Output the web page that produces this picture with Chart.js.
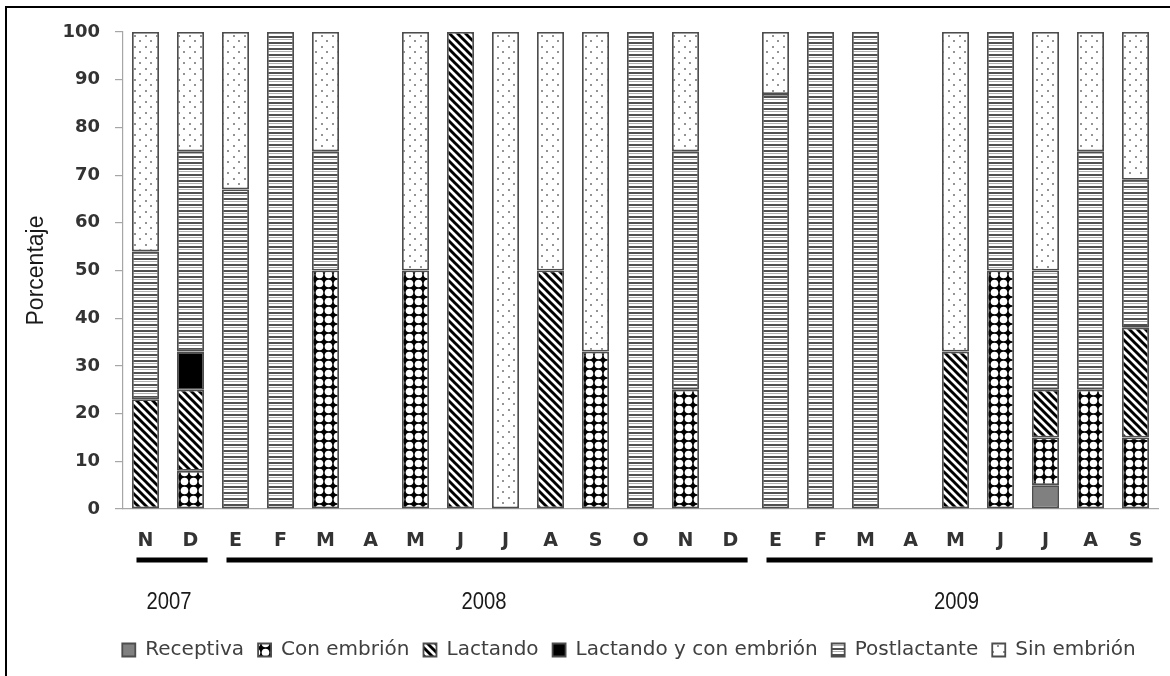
<!DOCTYPE html>
<html>
<head>
<meta charset="utf-8">
<script src="https://cdn.jsdelivr.net/npm/chart.js@4.4.1/dist/chart.umd.min.js"></script>
<style>
  body { margin: 0; background: #fff; }
  #wrap { position: relative; width: 1170px; height: 676px; overflow: hidden; background: #fff; }
  #frame {
    position: absolute; left: 5px; top: 6px; width: 1200px; height: 700px;
    border-left: 2px solid #000; border-top: 2px solid #000; pointer-events: none;
  }
</style>
</head>
<body>
<div id="wrap">
  <canvas id="chart" width="1170" height="676"></canvas>
  <div id="frame"></div>
</div>
<script>
const _ = null;

// Months (N 2007 .. S 2009)
const months = ['N', 'D', 'E', 'F', 'M', 'A', 'M', 'J', 'J', 'A', 'S', 'O', 'N', 'D',
                'E', 'F', 'M', 'A', 'M', 'J', 'J', 'A', 'S'];

// Percentages per reproductive state, stacked bottom -> top
const receptiva    = [_, _, _, _, _, _, _, _, _, _, _, _, _, _, _, _, _, _, _, _, 5, _, _];
const conEmbrion   = [_, 8, _, _, 50, _, 50, _, _, _, 33, _, 25, _, _, _, _, _, _, 50, 10, 25, 15];
const lactando     = [23, 17, _, _, _, _, _, 100, _, 50, _, _, _, _, _, _, _, _, 33, _, 10, _, 23];
const lactandoEmb  = [_, 8, _, _, _, _, _, _, _, _, _, _, _, _, _, _, _, _, _, _, _, _, _];
const postlactante = [31, 42, 67, 100, 25, _, _, _, _, _, _, 100, 50, _, 87, 100, 100, _, _, 50, 25, 50, 31];
const sinEmbrion   = [46, 25, 33, _, 25, _, 50, _, 100, 50, 67, _, 25, _, 13, _, _, _, 67, _, 50, 25, 31];

// Year groups under the month axis (first / last month index)
const years     = ['2007', '2008', '2009'];
const yearFirst = [0, 2, 14];
const yearLast  = [1, 13, 22];

const canvas = document.getElementById('chart');
const mainCtx = canvas.getContext('2d');

function tile(w, h, draw) {
    const c = document.createElement('canvas');
    c.width = w;
    c.height = h;
    draw(c.getContext('2d'));
    return mainCtx.createPattern(c, 'repeat');
}

const patConEmbrion = tile(9, 9, g => {
    g.fillStyle = '#000';
    g.fillRect(0, 0, 9, 9);
    g.fillStyle = '#fff';
    g.beginPath();
    g.arc(4.5, 4.5, 3.8, 0, Math.PI * 2);
    g.fill();
});

const patLactando = tile(8, 8, g => {
    g.fillStyle = '#fff';
    g.fillRect(0, 0, 8, 8);
    g.strokeStyle = '#000';
    g.lineWidth = 2.9;
    g.beginPath();
    g.moveTo(-2, -2); g.lineTo(10, 10);
    g.moveTo(-2, 6);  g.lineTo(2, 10);
    g.moveTo(6, -2);  g.lineTo(10, 2);
    g.stroke();
});

const patPost = tile(6, 6, g => {
    g.fillStyle = '#fff';
    g.fillRect(0, 0, 6, 6);
    g.fillStyle = '#505050';
    g.fillRect(0, 0, 6, 2);
    g.fillStyle = '#b0b0b0';
    g.fillRect(0, 3, 6, 1);
});

const patSin = tile(11, 11, g => {
    g.fillStyle = '#fff';
    g.fillRect(0, 0, 11, 11);
    g.fillStyle = '#949494';
    g.fillRect(2, 2, 2, 2);
    g.fillRect(7, 7, 2, 2);
});

function series(label, data, fill) {
    return {
        label: label,
        data: data,
        backgroundColor: fill,
        borderColor: '#4d4d4d',
        borderWidth: 1.8,
        borderSkipped: false,
        categoryPercentage: 1.0,
        barPercentage: 0.6
    };
}

// year bars + year labels below the month ticks
const yearPlugin = {
    id: 'yearGroups',
    afterDraw(chart) {
        const ctx = chart.ctx;
        const x = chart.scales.x;
        const base = chart.chartArea.bottom;
        const step = x.getPixelForValue(1) - x.getPixelForValue(0);
        ctx.save();
        ctx.strokeStyle = '#000';
        ctx.lineWidth = 5;
        ctx.fillStyle = '#1a1a1a';
        ctx.font = '23px "Liberation Sans", sans-serif';
        ctx.textAlign = 'center';
        ctx.textBaseline = 'middle';
        years.forEach((yr, i) => {
            const x0 = x.getPixelForValue(yearFirst[i]) - step * 0.2;
            const x1 = x.getPixelForValue(yearLast[i]) + step * 0.38;
            ctx.beginPath();
            ctx.moveTo(x0, base + 51);
            ctx.lineTo(x1, base + 51);
            ctx.stroke();
            // narrow-looking year text
            ctx.save();
            ctx.translate((x0 + x1) / 2 - 3, base + 94);
            ctx.scale(0.88, 1);
            ctx.fillText(yr, 0, 0);
            ctx.restore();
        });
        ctx.restore();
    }
};

// centre the legend row under the plot like the original figure
const legendShift = {
    id: 'legendShift',
    afterLayout(chart) {
        const lg = chart.legend;
        if (!lg) return;
        lg.left = 88;
        lg.right = chart.width;
    }
};

new Chart(mainCtx, {
    type: 'bar',
    data: {
        labels: months,
        datasets: [
            series('Receptiva', receptiva, '#808080'),
            series('Con embrión', conEmbrion, patConEmbrion),
            series('Lactando', lactando, patLactando),
            series('Lactando y con embrión', lactandoEmb, '#000'),
            series('Postlactante', postlactante, patPost),
            series('Sin embrión', sinEmbrion, patSin)
        ]
    },
    options: {
        responsive: false,
        animation: false,
        layout: { padding: { left: 0, right: 12, top: 32, bottom: 6 } },
        plugins: {
            legend: {
                position: 'bottom',
                labels: {
                    boxWidth: 13,
                    boxHeight: 13,
                    padding: 14,
                    color: '#404040',
                    font: { family: 'DejaVu Sans', size: 20 }
                }
            },
            tooltip: { enabled: false }
        },
        scales: {
            x: {
                stacked: true,
                grid: { display: false, drawTicks: false },
                border: { color: '#a6a6a6', width: 1.2 },
                ticks: {
                    padding: 21,
                    color: '#333',
                    font: { family: 'DejaVu Sans', size: 19, weight: 'bold' }
                },
                afterFit: axis => { axis.height = 117; }
            },
            y: {
                stacked: true,
                min: 0,
                max: 100,
                ticks: {
                    stepSize: 10,
                    padding: 15,
                    color: '#333',
                    font: { family: 'DejaVu Sans', size: 18, weight: 'bold' }
                },
                grid: { drawOnChartArea: false, tickLength: 8, color: '#a6a6a6', lineWidth: 1.2 },
                border: { color: '#a6a6a6', width: 1.2 },
                title: {
                    display: true,
                    text: 'Porcentaje',
                    color: '#1a1a1a',
                    font: { family: 'Liberation Sans', size: 23 },
                    padding: { top: 23, bottom: 0 }
                },
                afterFit: axis => { axis.width = 123; }
            }
        }
    },
    plugins: [yearPlugin, legendShift]
});
</script>
</body>
</html>
